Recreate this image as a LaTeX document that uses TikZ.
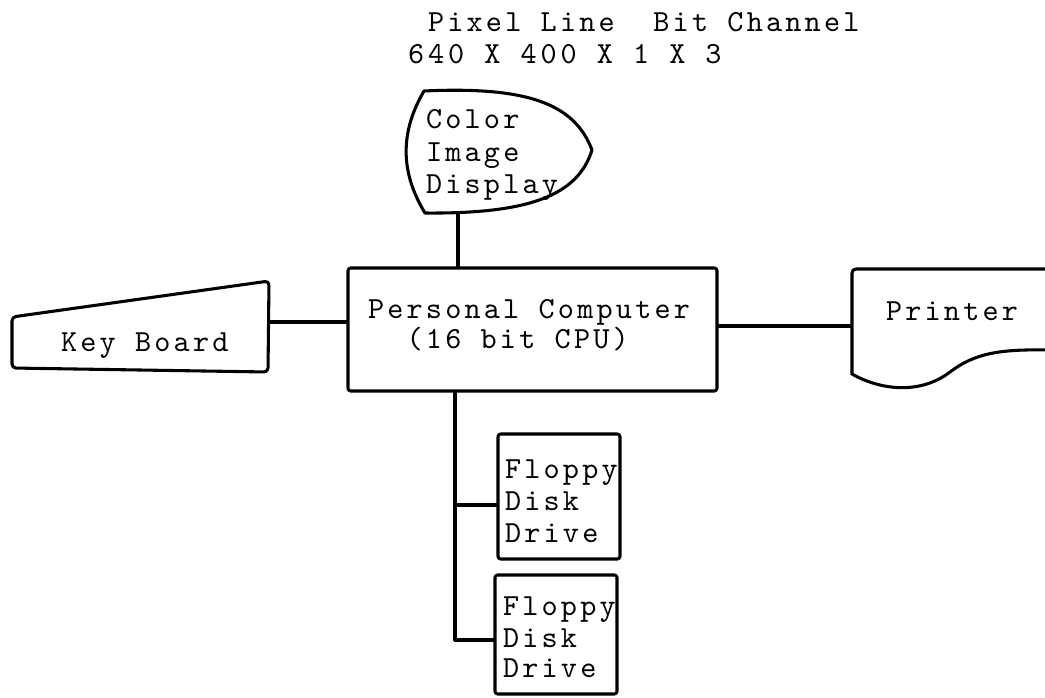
\documentclass[tikz,border=0pt]{standalone}
\usepackage{fontspec}
\newfontfamily\tw{lmmono10-regular}[Extension=.otf,LetterSpace=10.5]
\usetikzlibrary{fit}
\begin{document}
\begin{tikzpicture}[x=0.75pt,y=-0.75pt,line width=2.3pt,line join=round,
  lbl/.style={font=\tw\fontsize{23}{27}\selectfont,anchor=base west,inner sep=0pt,outer sep=0pt},
  box/.style={draw,rounded corners=2pt,inner sep=0pt,outer sep=0pt},
  wire/.style={draw}]
\useasboundingbox[fill=white] (0,0) rectangle (1045,697);

% title
\node[lbl] (t1) at (428,31) {Pixel Line\ \ Bit Channel};
\node[lbl,font=\tw\fontsize{23}{27}\selectfont\addfontfeature{LetterSpace=13}] (t2) at (408,63) {640 X 400 X 1 X 3};

% color image display
\draw (424,91) .. controls (530,86) and (575,105) .. (592,150)
  .. controls (578,195) and (530,214) .. (425,213)
  .. controls (400,172) and (400,132) .. (424,91) -- cycle;
\coordinate (dispB) at (458,213);
\node[lbl] (d1) at (426,128) {Color};
\node[lbl] (d2) at (426,161) {Image};
\node[lbl] (d3) at (426,193) {Display};

% personal computer
\node[box,fit={(348,268) (717,391)}] (pc) {};
\node[lbl] (p1) at (368,318) {Personal Computer};
\node[lbl] (p2) at (368,348) {\ \ (16 bit CPU)};

% keyboard
\draw[rounded corners=3pt] (12,317) -- (269,281) -- (268,372) -- (12,368) -- cycle;
\coordinate (kbR) at (269,322);
\node[lbl] (k1) at (61,351) {Key Board};

% printer
\draw[rounded corners=3pt] (1050,269) -- (852,269) -- (852,375);
\draw (852,374) .. controls (880,390) and (920,395) .. (950,372)
  .. controls (975,353) and (1000,349) .. (1050,350);
\coordinate (prL) at (852,326);
\node[lbl] (pr) at (886,320) {Printer};

% floppy disk drives
\node[box,fit={(498,434) (620,559)}] (fd1) {};
\node[box,fit={(495,575) (617,694)}] (fd2) {};
\node[lbl] (f11) at (505,478) {Floppy};
\node[lbl] (f12) at (505,510) {Disk};
\node[lbl] (f13) at (505,542) {Drive};
\node[lbl] (f21) at (503,615) {Floppy};
\node[lbl] (f22) at (503,647) {Disk};
\node[lbl] (f23) at (503,677) {Drive};

% connectors
\coordinate (bus) at (455,640);
\coordinate (b1) at (455,505);
\draw (dispB) -- (dispB |- pc.north);
\draw (kbR) -- (kbR -| pc.west);
\draw (pc.east |- prL) -- (prL);
\draw (pc.south -| bus) -- (bus) -- (bus -| fd2.west);
\draw (b1) -- (b1 -| fd1.west);
\end{tikzpicture}
\end{document}
